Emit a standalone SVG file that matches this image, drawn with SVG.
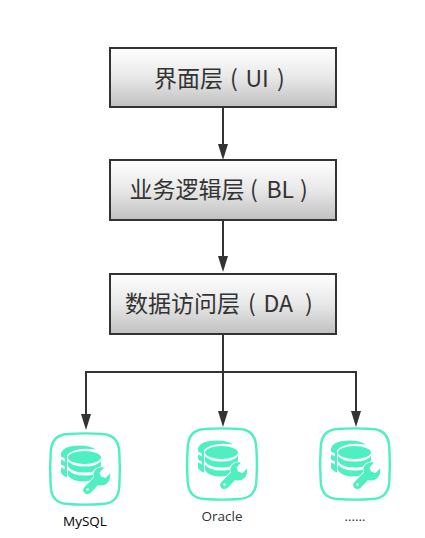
<svg xmlns="http://www.w3.org/2000/svg" xmlns:xlink="http://www.w3.org/1999/xlink" width="425" height="538" viewBox="0 0 425 538">
<style>
.box{stroke:#333;stroke-width:2;fill:url(#g)}
.lbl{font-family:"Noto Sans CJK SC","Liberation Sans",sans-serif;font-size:23px;fill:#333}
.cap{font-family:"Open Sans","Liberation Sans",sans-serif;font-size:13.5px;text-anchor:middle}
.c{fill:none;stroke:#333;stroke-width:2}
.a{fill:#333}
.t{fill:#4eefc0}
</style>
<defs>
<linearGradient id="g" x1="0" y1="0" x2="0" y2="1"><stop offset="0" stop-color="#ffffff"/><stop offset="0.5" stop-color="#e8e8e8"/><stop offset="1" stop-color="#c0c0c0"/></linearGradient>
<g id="db">
<path d="M18 0.500Q35 -0.700 52 0.500Q68.500 1 69.300 19Q70.500 35.500 69.300 53Q68.500 70 52 70.500Q35 71.700 18 70.500Q1.500 70 0.700 53Q-0.500 35.500 0.700 19Q1.500 1 18 0.500Z" fill="#fff" stroke="#4eefc0" stroke-width="2.400"/>
<path class="t" d="M11 20Q13 12 30 12Q40 12 46 16Q24 13 17 22V44Q12 42 11 39V34L15 36V33L11 31V26L15 28V25L11 23Z"/>
<ellipse class="t" cx="34.500" cy="24" rx="16.500" ry="6.500"/>
<path class="t" d="M18 27.500Q22 33 34.500 33Q47 33 51 27.500V33Q47 39 34.500 39Q22 39 18 33Z"/>
<path class="t" d="M18 36Q22 42 34.500 42Q42 42 46 40L42 45L40 47Q37 48 34.500 48Q22 48 18 42Z"/>
<path fill="#4eefc0" stroke="#fff" stroke-width="1.500" paint-order="stroke" d="M34.500 53.500L44 44Q42 38 47 35Q50 33 54 34L49.500 39L51 43L55.500 44.500L60 40Q61 46 57 50Q53 53 48 51.500L41 59Q37 62 34 59Q32 56 34.500 53.500Z"/>
<circle cx="37.500" cy="56" r="1.300" fill="#fff"/>
</g>
</defs>
<g id="connectors">
<path class="c" d="M223 107V146"/><path class="a" d="M218 144H228L223 160Z"/>
<path class="c" d="M223 220V258"/><path class="a" d="M218 256H228L223 272Z"/>
<path class="c" d="M223 334V411"/><path class="a" d="M218 411H228L223 427Z"/>
<path class="c" d="M223 372H86V414"/><path class="a" d="M81 414H91L86 430Z"/>
<path class="c" d="M223 372H356V411"/><path class="a" d="M351 411H361L356 427Z"/>
</g>
<g id="ui"><rect class="box" x="110" y="48" width="226" height="59"/><text class="lbl" x="154" y="87">界面层 <tspan x="230">(</tspan> <tspan x="245.500">UI</tspan> <tspan x="277">)</tspan></text></g>
<g id="bl"><rect class="box" x="110" y="160" width="226" height="60"/><text class="lbl" x="129.500" y="198">业务逻辑层 <tspan x="250">(</tspan> <tspan x="266.500">BL</tspan> <tspan x="300">)</tspan></text></g>
<g id="da"><rect class="box" x="110" y="274" width="226" height="60"/><text class="lbl" x="125" y="312">数据访问层 <tspan x="248">(</tspan> <tspan x="263.500">DA</tspan> <tspan x="305">)</tspan></text></g>
<g id="mysql"><use xlink:href="#db" href="#db" x="50" y="433.500"/><text class="cap" x="85" y="526">MySQL</text></g>
<g id="oracle"><use xlink:href="#db" href="#db" x="187" y="428.500"/><text class="cap" x="222" y="521" fill="#333">Oracle</text></g>
<g id="other"><use xlink:href="#db" href="#db" x="320" y="428.500"/><text class="cap" x="355" y="521" fill="#333">……</text></g>
</svg>
